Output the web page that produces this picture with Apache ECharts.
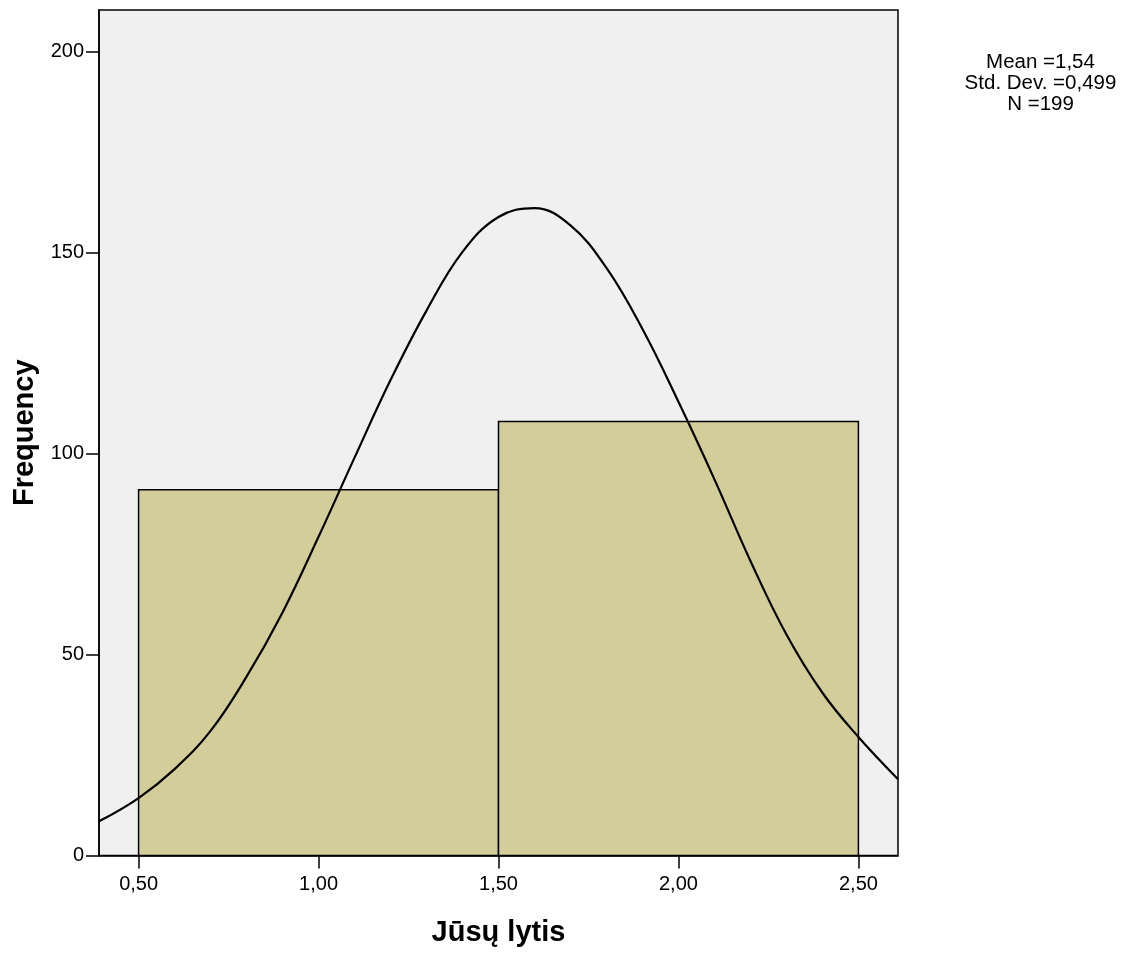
<!DOCTYPE html>
<html>
<head>
<meta charset="utf-8">
<script src="https://cdn.jsdelivr.net/npm/echarts@6/dist/echarts.min.js"></script>
<style>
html,body{margin:0;padding:0;background:#fff;}
#chart{width:1133px;height:954px;}
</style>
</head>
<body>
<div id="chart"></div>
<script>
// Histogram bins
const binStart = [0.5, 1.5];
const binEnd = [1.5, 2.5];
const binCount = [91, 108];
// Normal curve points (x, frequency)
const curveX = [0.39, 0.5, 0.6, 0.7, 0.8, 0.9, 1.0, 1.1, 1.2, 1.3, 1.4, 1.5, 1.6, 1.7, 1.8, 1.9, 2.0, 2.1, 2.2, 2.3, 2.4, 2.5, 2.61];
const curveY = [8.5, 14.3, 21.5, 31.0, 44.5, 60.5, 79.3, 99.0, 118.3, 135.6, 150.2, 158.9, 161.1, 156.8, 146.2, 131.0, 112.9, 93.6, 73.3, 55.0, 40.5, 29.5, 19.0];
// Tick labels
const xTicks = [0.5, 1.0, 1.5, 2.0, 2.5];
const yTicks = [0, 50, 100, 150, 200];
const statLines = ['Mean =1,54', 'Std. Dev. =0,499', 'N =199'];
const xTitle = 'Jūsų lytis';
const yTitle = 'Frequency';

const chart = echarts.init(document.getElementById('chart'), null, {renderer: 'canvas'});
const font = 'Liberation Sans, Arial, sans-serif';
const histData = binStart.map((s, i) => [s, binEnd[i], binCount[i]]);
const curveData = curveX.map((x, i) => [x, curveY[i]]);

chart.setOption({
  animation: false,
  backgroundColor: '#ffffff',
  grid: {left: 99, right: 235, top: 10, bottom: 98.5, show: true, backgroundColor: '#f0f0f0', borderColor: '#000', borderWidth: 1.5},
  xAxis: {
    type: 'value', min: 0.39, max: 2.61,
    name: xTitle, nameLocation: 'middle', nameGap: 63,
    nameTextStyle: {fontFamily: font, fontSize: 29, fontWeight: 'bold', color: '#000'},
    axisLine: {show: true, onZero: false, lineStyle: {color: '#000', width: 1.5}},
    axisTick: {show: true, length: 13, lineStyle: {color: '#000', width: 1.5}, customValues: xTicks},
    axisLabel: {color: '#000', fontFamily: font, fontSize: 20, margin: 19, customValues: xTicks,
      formatter: v => v.toFixed(2).replace('.', ',')},
    splitLine: {show: false}
  },
  yAxis: {
    type: 'value', min: 0, max: 210.4,
    name: yTitle, nameLocation: 'middle', nameGap: 59,
    nameTextStyle: {fontFamily: font, fontSize: 29, fontWeight: 'bold', color: '#000'},
    axisLine: {show: true, lineStyle: {color: '#000', width: 1.5}},
    axisTick: {show: true, length: 13, lineStyle: {color: '#000', width: 1.5}, customValues: yTicks},
    axisLabel: {color: '#000', fontFamily: font, fontSize: 20, margin: 15, customValues: yTicks},
    splitLine: {show: false}
  },
  series: [
    {
      type: 'custom',
      data: histData,
      encode: {x: [0, 1], y: 2},
      renderItem: function (params, api) {
        const p0 = api.coord([api.value(0), api.value(2)]);
        const p1 = api.coord([api.value(1), 0]);
        return {
          type: 'rect',
          shape: {x: p0[0], y: p0[1], width: p1[0] - p0[0], height: p1[1] - p0[1]},
          style: {fill: '#d3ce99', stroke: '#000', lineWidth: 1.5}
        };
      },
      z: 2
    },
    {
      type: 'line',
      data: curveData,
      smooth: 0.4,
      showSymbol: false,
      lineStyle: {color: '#000', width: 2.2},
      clip: true,
      z: 3
    }
  ],
  graphic: statLines.map((t, i) => ({
    type: 'text',
    x: 1040.5, y: 62 + i * 21,
    style: {text: t, fill: '#000', font: '20.5px ' + font, textAlign: 'center', textVerticalAlign: 'middle'}
  }))
});
</script>
</body>
</html>
